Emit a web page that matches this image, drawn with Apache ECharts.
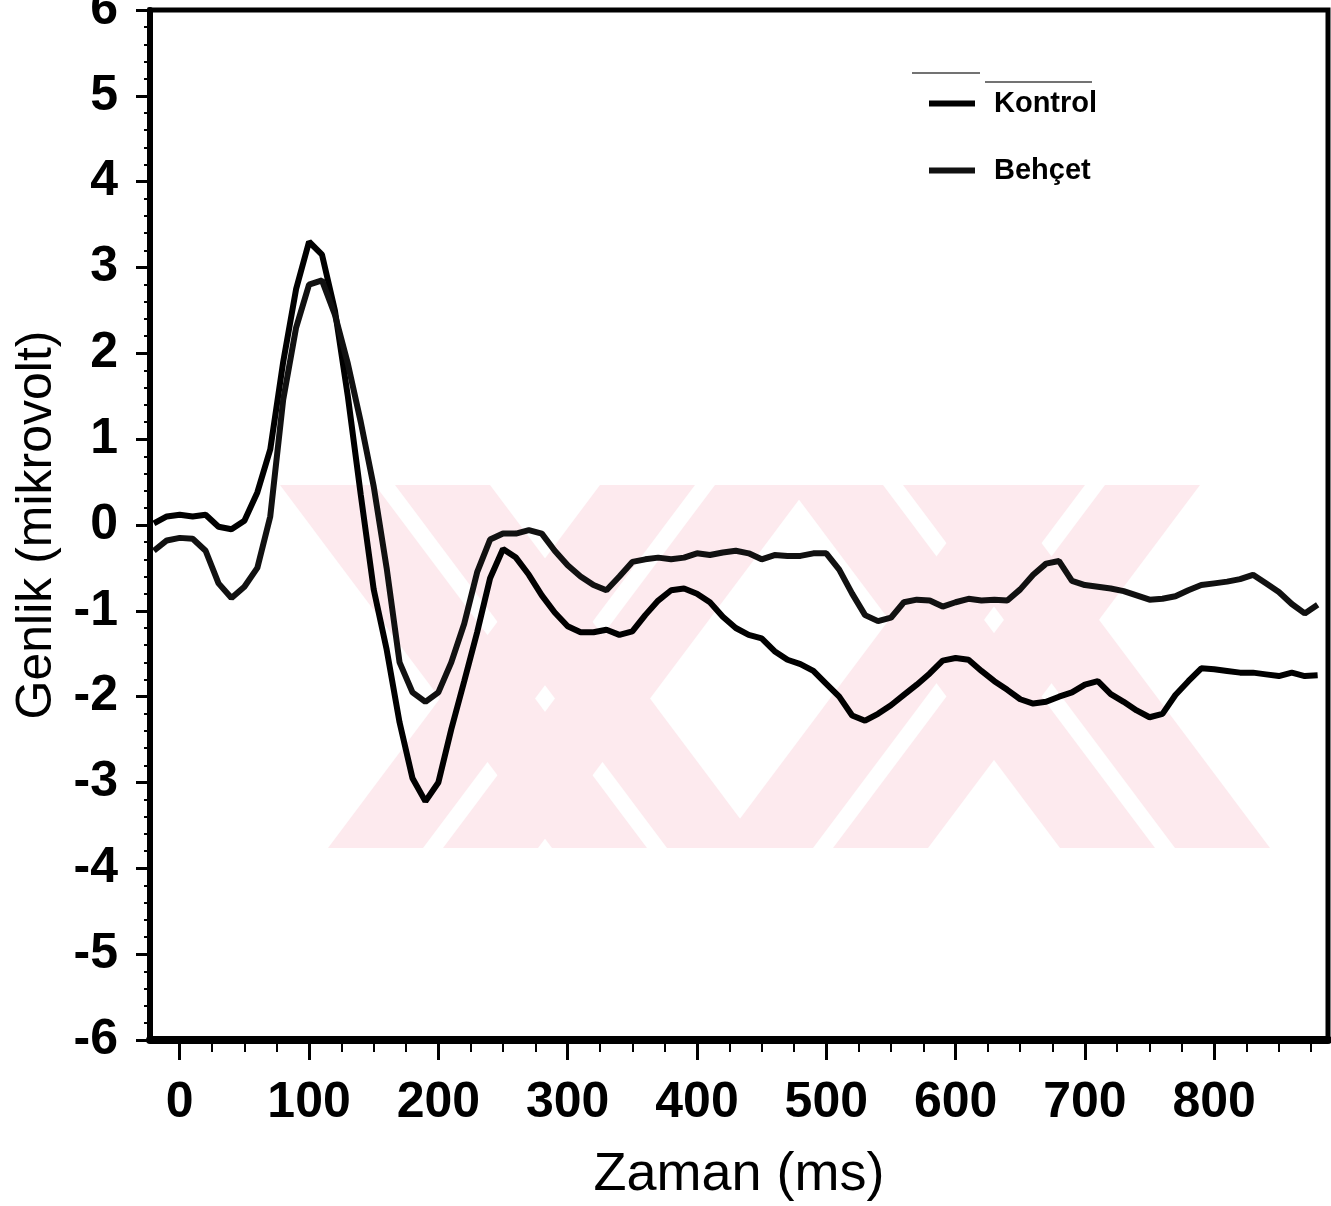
<!DOCTYPE html>
<html>
<head>
<meta charset="utf-8">
<script src="https://cdn.jsdelivr.net/npm/echarts@6/dist/echarts.min.js"></script>
<style>
html,body{margin:0;padding:0;background:#fff;}
#chart{width:1331px;height:1206px;}
</style>
</head>
<body>
<div id="chart"></div>
<script>
// ---- data ----
const times = [-20,-10,0,10,20,30,40,50,60,70,80,90,100,110,120,130,140,150,160,170,180,190,200,210,220,230,240,250,260,270,280,290,300,310,320,330,340,350,360,370,380,390,400,410,420,430,440,450,460,470,480,490,500,510,520,530,540,550,560,570,580,590,600,610,620,630,640,650,660,670,680,690,700,710,720,730,740,750,760,770,780,790,800,810,820,830,840,850,860,870,880];

const kontrol = [0.02,0.10,0.12,0.10,0.12,-0.02,-0.05,0.05,0.38,0.88,1.9,2.75,3.3,3.15,2.5,1.5,0.35,-0.75,-1.45,-2.3,-2.95,-3.22,-3.0,-2.38,-1.82,-1.25,-0.62,-0.28,-0.38,-0.58,-0.82,-1.02,-1.18,-1.25,-1.25,-1.22,-1.28,-1.24,-1.05,-0.88,-0.76,-0.74,-0.8,-0.9,-1.07,-1.2,-1.28,-1.32,-1.47,-1.57,-1.62,-1.7,-1.85,-2.0,-2.22,-2.28,-2.2,-2.1,-1.98,-1.86,-1.73,-1.58,-1.55,-1.57,-1.7,-1.82,-1.92,-2.03,-2.08,-2.06,-2.0,-1.95,-1.86,-1.82,-1.97,-2.06,-2.16,-2.24,-2.2,-1.98,-1.82,-1.67,-1.68,-1.7,-1.72,-1.72,-1.74,-1.76,-1.72,-1.76,-1.75];

const behcet = [-0.3,-0.18,-0.15,-0.16,-0.3,-0.68,-0.85,-0.72,-0.5,0.1,1.46,2.3,2.8,2.85,2.45,1.88,1.2,0.45,-0.5,-1.6,-1.95,-2.06,-1.95,-1.6,-1.15,-0.55,-0.17,-0.1,-0.1,-0.06,-0.1,-0.3,-0.47,-0.6,-0.7,-0.76,-0.6,-0.43,-0.4,-0.38,-0.4,-0.38,-0.33,-0.35,-0.32,-0.3,-0.33,-0.4,-0.35,-0.36,-0.36,-0.33,-0.33,-0.52,-0.8,-1.05,-1.12,-1.08,-0.9,-0.87,-0.88,-0.95,-0.9,-0.86,-0.88,-0.87,-0.88,-0.75,-0.58,-0.45,-0.42,-0.65,-0.7,-0.72,-0.74,-0.77,-0.82,-0.87,-0.86,-0.83,-0.76,-0.7,-0.68,-0.66,-0.63,-0.58,-0.68,-0.78,-0.92,-1.03,-0.93];

const xMajorTicks = [0,100,200,300,400,500,600,700,800];
const xMinorTicks = [25,50,75,125,150,175,225,250,275,325,350,375,425,450,475,525,550,575,625,650,675,725,750,775,825,850,875];
const seriesNames = ['Kontrol','Behçet'];
const xName = 'Zaman (ms)';
const yName = 'Genlik (mikrovolt)';

// ---- chart ----
const chart = echarts.init(document.getElementById('chart'), null, {renderer:'canvas'});
const FONT = 'Liberation Sans, Arial, sans-serif';

// faint watermark bands (decoration from the scanned page)
const wmColor = '#fdeaee';
function band(x0, x1, top, bottom, shift) {
  return {type:'polygon', z:0, silent:true,
    shape:{points:[[x0,top],[x1,top],[x1+shift,bottom],[x0+shift,bottom]]},
    style:{fill:wmColor}};
}
const wm = [];
const T = 485, B = 848, S = 272;
[280, 788].forEach(x => { wm.push(band(x, x+95, T, B, S)); wm.push(band(x+115, x+210, T, B, S)); });
[600, 990].forEach(x => { wm.push(band(x, x+95, T, B, -S)); wm.push(band(x+115, x+210, T, B, -S)); });

const option = {
  backgroundColor:'#fff',
  animation:false,
  textStyle:{fontFamily:FONT},
  grid:{left:150, right:3, top:10, bottom:166, outerBoundsMode:'none', containLabel:false,
        show:true, borderColor:'#000', borderWidth:5, backgroundColor:'transparent'},
  legend:{
    orient:'vertical', left:924, top:84, itemWidth:46, itemHeight:6, itemGap:38, icon:'rect',
    data:seriesNames,
    textStyle:{fontSize:29, fontWeight:'bold', color:'#000', fontFamily:FONT, padding:[0,0,0,14]}
  },
  xAxis:[{
    type:'value', min:-23, max:888, position:'bottom',
    axisLine:{show:true, onZero:false, lineStyle:{color:'#000', width:8}},
    axisTick:{show:true, customValues:xMajorTicks, length:20, lineStyle:{color:'#000', width:3}},
    axisLabel:{customValues:xMajorTicks, fontSize:50, fontWeight:'bold', color:'#000', margin:38, fontFamily:FONT},
    splitLine:{show:false},
    name:xName, nameLocation:'middle', nameGap:108,
    nameTextStyle:{fontSize:54, color:'#000', fontFamily:FONT}
  },{
    type:'value', min:-23, max:888, position:'bottom',
    axisLine:{show:false, onZero:false},
    axisTick:{show:true, customValues:xMinorTicks, length:12, lineStyle:{color:'#000', width:2}},
    axisLabel:{show:false},
    splitLine:{show:false}
  }],
  yAxis:{
    type:'value', min:-6, max:6, interval:1,
    axisLine:{show:true, onZero:false, lineStyle:{color:'#000', width:6}},
    axisTick:{show:true, length:14, lineStyle:{color:'#000', width:3}},
    minorTick:{show:true, splitNumber:5, length:6, lineStyle:{color:'#000', width:2}},
    axisLabel:{fontSize:50, fontWeight:'bold', color:'#000', margin:32, fontFamily:FONT},
    splitLine:{show:false},
    name:yName, nameLocation:'middle', nameGap:88,
    nameTextStyle:{fontSize:50, color:'#000', fontFamily:FONT}
  },
  graphic:wm.concat([
    {type:'line', silent:true, shape:{x1:912,y1:73,x2:980,y2:73}, style:{stroke:'#444', lineWidth:1.5}},
    {type:'line', silent:true, shape:{x1:985,y1:82,x2:1092,y2:82}, style:{stroke:'#444', lineWidth:1.5}}
  ]),
  series:[{
    name:seriesNames[0], type:'line', xAxisIndex:0, z:5,
    data:times.map((t,i)=>[t,kontrol[i]]),
    showSymbol:false, color:'#000',
    lineStyle:{color:'#000', width:6}
  },{
    name:seriesNames[1], type:'line', xAxisIndex:0, z:5,
    data:times.map((t,i)=>[t,behcet[i]]),
    showSymbol:false, color:'#111',
    lineStyle:{color:'#111', width:6}
  }]
};
chart.setOption(option);
</script>
</body>
</html>
